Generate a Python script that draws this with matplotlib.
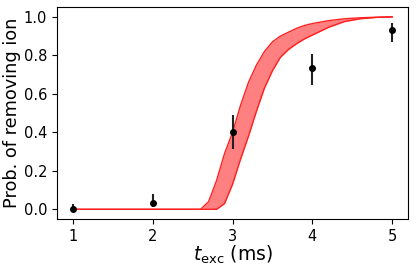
import numpy as np
import matplotlib
matplotlib.use('Agg')
import matplotlib.pyplot as plt

# measured points
t_exc = [1, 2, 3, 4, 5]
prob = [0.0, 0.033, 0.40, 0.732, 0.934]
err_lo = [0.0, 0.023, 0.085, 0.087, 0.063]
err_hi = [0.03, 0.045, 0.092, 0.073, 0.033]

# simulated band
t_sim = [1.0, 2.6, 2.7, 2.8, 2.9, 3.0, 3.1, 3.2, 3.3, 3.4, 3.5, 3.6, 3.7,
         3.8, 3.9, 4.0, 4.2, 4.4, 4.6, 4.8, 5.0]
band_hi = [0.0, 0.0, 0.04, 0.15, 0.29, 0.40, 0.54, 0.66, 0.75, 0.82, 0.87,
           0.90, 0.92, 0.94, 0.955, 0.965, 0.98, 0.99, 0.995, 0.998, 1.0]
band_lo = [0.0, 0.0, 0.0, 0.0, 0.03, 0.13, 0.26, 0.38, 0.51, 0.63, 0.72,
           0.79, 0.83, 0.86, 0.885, 0.905, 0.945, 0.975, 0.99, 0.997, 1.0]

fig = plt.figure(figsize=(4.16, 2.67), dpi=100)
ax = fig.add_axes([0.137, 0.18, 0.844, 0.793])

ax.fill_between(t_sim, band_lo, band_hi, color='#ff8080', lw=0)
ax.plot(t_sim, band_hi, color='#ff2020', lw=1)
ax.plot(t_sim, band_lo, color='#ff2020', lw=1)

ax.errorbar(t_exc, prob, yerr=[err_lo, err_hi], fmt='o', color='black',
            ecolor='#222222', ms=4, elinewidth=1.5, capsize=0, zorder=5)

ax.set_xticks([1, 2, 3, 4, 5])
ax.set_yticks([0.0, 0.2, 0.4, 0.6, 0.8, 1.0])
ax.tick_params(labelsize=10.5)
ax.set_xlabel(r'$t_{\rm exc}$ (ms)', fontsize=13.5, labelpad=0)
ax.set_ylabel('Prob. of removing ion', fontsize=12.8, labelpad=2)

fig.savefig('out.png', dpi=100)
